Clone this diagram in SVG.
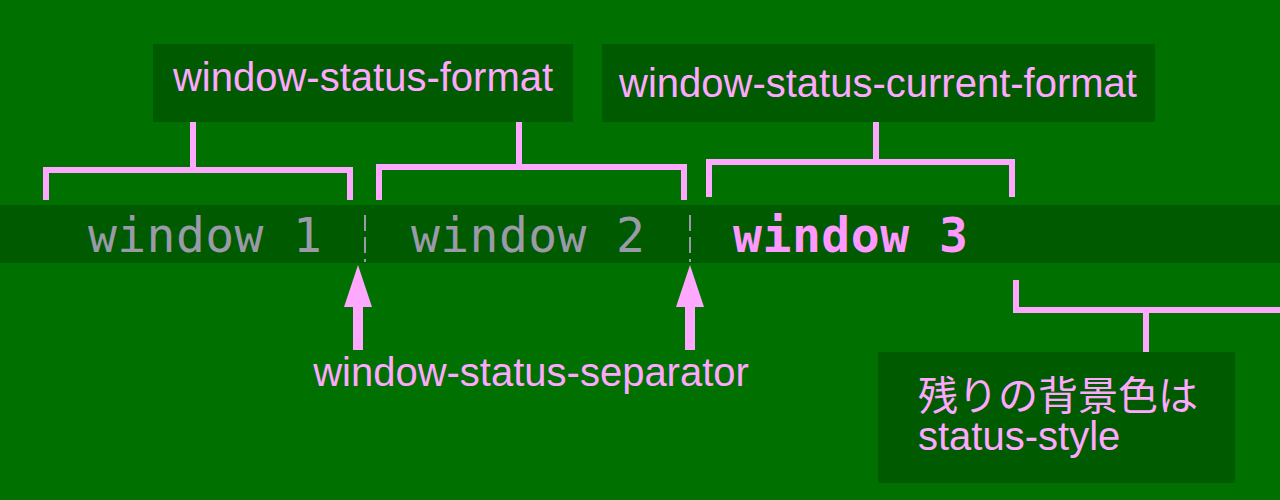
<svg xmlns="http://www.w3.org/2000/svg" width="1280" height="500" viewBox="0 0 1280 500">
<style>
.lbl{font-family:"Liberation Sans",Arial,sans-serif;font-size:40px;fill:#ffa8ff}
.jp{font-family:"Liberation Sans","Noto Sans CJK JP",sans-serif;font-size:40px;fill:#ffa8ff}
.box{fill:#005a00}
.br{fill:none;stroke:#ffa8ff;stroke-width:6}
.win{font-family:"DejaVu Sans Mono",monospace;font-size:48px;fill:#9a9aa8}
</style>
<rect width="1280" height="500" fill="#007000"/>
<g id="statusbar">
<rect x="0" y="205" width="1280" height="58" fill="#005a00"/>
<text class="win" x="88" y="252" textLength="234">window 1</text>
<text class="win" x="411" y="252" textLength="234">window 2</text>
<text class="win" x="733" y="252" textLength="235" style="font-weight:bold;fill:#ff99ff">window 3</text>
<line x1="365" y1="215" x2="365" y2="262" stroke="#9a9aa8" stroke-width="2" stroke-dasharray="16,6"/>
<line x1="690" y1="215" x2="690" y2="262" stroke="#9a9aa8" stroke-width="2" stroke-dasharray="16,6"/>
</g>
<g id="n1"><rect class="box" x="153" y="44" width="420" height="78"/><text class="lbl" x="363" y="91" text-anchor="middle">window-status-format</text></g>
<g id="n2"><rect class="box" x="602" y="44" width="553" height="78"/><text class="lbl" x="878" y="97" text-anchor="middle">window-status-current-format</text></g>
<g id="n3"><text class="lbl" x="531" y="386" text-anchor="middle">window-status-separator</text></g>
<g id="n4"><rect class="box" x="878" y="352" width="357" height="131"/><text class="jp" x="918" y="410">残りの背景色は</text><text class="lbl" x="918" y="450">status-style</text></g>
<g id="connectors">
<path class="br" d="M46 200V170H350V200M193 170V122"/>
<path class="br" d="M379 200V167H684V200M519 167V122"/>
<path class="br" d="M709 197V162H1012V197M876 162V122"/>
<path class="br" d="M1016 280V310H1280M1146 310V352"/>
<path d="M358 265L372 307H363V350H353V307H344Z" fill="#ffa8ff"/>
<path d="M690 265L704 307H695V350H685V307H676Z" fill="#ffa8ff"/>
</g>
</svg>
